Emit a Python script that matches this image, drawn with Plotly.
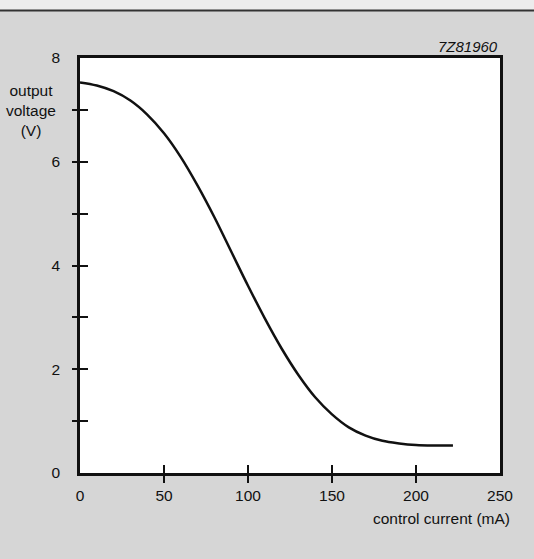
import plotly.graph_objects as go

current_mA = [0, 10, 20, 30, 40, 50, 60, 70, 80, 90, 100, 110, 120, 130, 140,
              150, 160, 170, 180, 190, 200, 210, 222]
voltage_V = [7.53, 7.47, 7.36, 7.18, 6.91, 6.55, 6.09, 5.54, 4.93, 4.27, 3.61,
             2.98, 2.40, 1.89, 1.46, 1.13, 0.88, 0.72, 0.62, 0.57, 0.54, 0.53, 0.53]

x_tick_vals = [0, 50, 100, 150, 200, 250]
x_tick_text = ["0", "50", "100", "150", "200", "250"]
y_tick_vals = [0, 2, 4, 6, 8]
y_tick_text = ["0", "2", "4", "6", "8"]
x_mark_vals = [50, 100, 150, 200]
y_mark_vals = [1, 2, 3, 4, 5, 6, 7]

FONT = "Liberation Sans, Arial, sans-serif"
INK = "#111111"
FS = 15.5

fig = go.Figure()
fig.add_trace(go.Scatter(x=current_mA, y=voltage_V, mode="lines",
                         line=dict(color=INK, width=2.5, shape="spline", smoothing=1.0),
                         hoverinfo="skip", showlegend=False))
# invisible traces to hold overlay axes (outer and inner halves of crossing ticks)
fig.add_trace(go.Scatter(x=[0], y=[0], xaxis="x2", yaxis="y2", mode="markers",
                         marker=dict(opacity=0), hoverinfo="skip", showlegend=False))
fig.add_trace(go.Scatter(x=[0], y=[0], xaxis="x3", yaxis="y3", mode="markers",
                         marker=dict(opacity=0), hoverinfo="skip", showlegend=False))

tick_common = dict(tickwidth=1.5, tickcolor=INK, showgrid=False, zeroline=False,
                   showline=False)

fig.update_layout(
    width=534, height=559,
    margin=dict(l=80, r=34, t=58, b=86),
    paper_bgcolor="#d6d6d6",
    plot_bgcolor="#ffffff",
    font=dict(family=FONT, size=FS, color=INK),
    hovermode=False,
    xaxis=dict(range=[0, 250], tickvals=x_tick_vals, ticktext=x_tick_text,
               showgrid=False, zeroline=False, showline=True, linecolor=INK,
               linewidth=2.5, mirror=True, ticks="", ticklabelstandoff=7,
               tickfont=dict(size=FS, color=INK)),
    yaxis=dict(range=[0, 8], tickvals=y_tick_vals, ticktext=y_tick_text,
               showgrid=False, zeroline=False, showline=True, linecolor=INK,
               linewidth=2.5, mirror=True, ticks="", ticklabelstandoff=14,
               tickfont=dict(size=FS, color=INK)),
    xaxis2=dict(range=[0, 250], overlaying="x", tickvals=x_mark_vals,
                ticktext=[""] * len(x_mark_vals), ticks="outside", ticklen=9,
                anchor="y2", side="bottom", **tick_common),
    yaxis2=dict(range=[0, 8], overlaying="y", tickvals=y_mark_vals,
                ticktext=[""] * len(y_mark_vals), ticks="outside", ticklen=7,
                anchor="x2", side="left", **tick_common),
    xaxis3=dict(range=[0, 250], overlaying="x", tickvals=x_mark_vals,
                ticktext=[""] * len(x_mark_vals), ticks="inside", ticklen=8,
                anchor="y3", side="bottom", **tick_common),
    yaxis3=dict(range=[0, 8], overlaying="y", tickvals=y_mark_vals,
                ticktext=[""] * len(y_mark_vals), ticks="inside", ticklen=8,
                anchor="x3", side="left", **tick_common),
)

# light strip at the very top and rule line
RULE_Y = 1 + 47.5 / 415.5
fig.add_shape(type="rect", xref="paper", yref="paper", x0=-0.3, x1=1.3,
              y0=RULE_Y, y1=1.3, fillcolor="#ececec", line_width=0, layer="below")
fig.add_shape(type="line", xref="paper", yref="paper", x0=-0.3, x1=1.3,
              y0=RULE_Y, y1=RULE_Y, line=dict(color="#333333", width=2))

fig.add_annotation(text="<i>7Z81960</i>", xref="paper", yref="paper", x=1.0,
                   y=1 + 12 / 415.5, xanchor="right", yanchor="middle", showarrow=False,
                   font=dict(family=FONT, size=15, color=INK))
fig.add_annotation(text="output<br>voltage<br>(V)", xref="paper", yref="paper",
                   x=-49 / 420, y=1 - 53 / 415.5, xanchor="center", yanchor="middle",
                   showarrow=False, align="center",
                   font=dict(family=FONT, size=FS, color=INK))
fig.add_annotation(text="control current (mA)", xref="paper", yref="paper",
                   x=1 + 12 / 420, y=-45.5 / 415.5, xanchor="right", yanchor="middle",
                   showarrow=False, font=dict(family=FONT, size=FS, color=INK))

fig.write_html("out.html", config={"displayModeBar": False},
               post_script="document.body.style.margin='0';document.body.style.overflow='hidden';")
